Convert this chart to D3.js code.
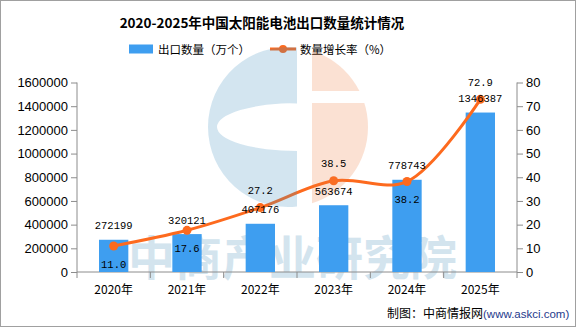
<!DOCTYPE html>
<html><head><meta charset="utf-8">
<script src="https://cdn.jsdelivr.net/npm/d3@7/dist/d3.min.js"></script>
<style>html,body{margin:0;padding:0;background:#fff;}svg{display:block;}</style>
</head><body>
<script>
const years = ["2020年","2021年","2022年","2023年","2024年","2025年"];
const exportQty = [272199, 320121, 407176, 563674, 778743, 1346387];
const growthRate = [11.0, 17.6, 27.2, 38.5, 38.2, 72.9];
const leftTicks = [0,200000,400000,600000,800000,1000000,1200000,1400000,1600000];
const rightTicks = [0,10,20,30,40,50,60,70,80];
const rateLabelSide = ["below","below","above","above","below","above"];

const W = 576, H = 327;
const svg = d3.select("body").append("svg").attr("width", W).attr("height", H);
svg.append("rect").attr("x",0.5).attr("y",0.5).attr("width",W-1).attr("height",H-1)
  .attr("fill","#fff").attr("stroke","#a0a0a0");

const x0 = 77, x1 = 517, yTop = 82.5, yBot = 272;
const x = d3.scaleBand().domain(years).range([x0, x1]).paddingInner(0.6).paddingOuter(0.3);
const yL = d3.scaleLinear().domain([0,1600000]).range([yBot, yTop]);
const yR = d3.scaleLinear().domain([0,80]).range([yBot, yTop]);
const cx = d => x(d) + x.bandwidth()/2;

const barColor = "#3e9ef0", lineColor = "#fd6a1e", axisColor = "#8c8c8c";
const cjk = "'Noto Sans CJK SC', sans-serif";

// watermark text (behind bars)
svg.append("text").attr("x", 292.5).attr("y", 275).attr("text-anchor","middle")
  .attr("font-family", cjk).attr("font-weight","bold").attr("font-size", 47)
  .attr("fill","#d3e4ee").text("中商产业研究院");

// Title
svg.append("text").attr("x", 262).attr("y", 28).attr("text-anchor","middle")
  .attr("font-family", cjk).attr("font-weight","bold").attr("font-size", 13.5)
  .attr("fill","#000").text("2020-2025年中国太阳能电池出口数量统计情况");

// Legend
svg.append("rect").attr("x",129).attr("y",44.5).attr("width",24).attr("height",9).attr("fill",barColor);
svg.append("text").attr("x",158).attr("y",53.5).attr("font-family",cjk).attr("font-size",11.5)
  .attr("fill","#000").text("出口数量（万个）");
svg.append("line").attr("x1",270).attr("x2",296).attr("y1",49).attr("y2",49)
  .attr("stroke",lineColor).attr("stroke-width",3);
svg.append("circle").attr("cx",283).attr("cy",49).attr("r",4).attr("fill",lineColor);
svg.append("text").attr("x",300).attr("y",53.5).attr("font-family",cjk).attr("font-size",11.5)
  .attr("fill","#000").text("数量增长率（%）");

// Axes
const axL = svg.append("g").attr("transform",`translate(${x0},0)`)
  .call(d3.axisLeft(yL).tickValues(leftTicks).tickSize(6).tickPadding(3).tickFormat(d3.format("d")));
const axR = svg.append("g").attr("transform",`translate(${x1},0)`)
  .call(d3.axisRight(yR).tickValues(rightTicks).tickSize(6).tickPadding(3).tickFormat(d3.format("d")));
[axL, axR].forEach(g => {
  g.select(".domain").attr("d", null).remove();
  g.selectAll("line").attr("stroke", axisColor);
  g.selectAll("text").attr("font-family","'Liberation Sans', Arial, sans-serif").attr("font-size",13).attr("fill","#000");
});
svg.append("line").attr("x1",x0).attr("x2",x0).attr("y1",yTop).attr("y2",yBot).attr("stroke",axisColor);
svg.append("line").attr("x1",x1).attr("x2",x1).attr("y1",yTop).attr("y2",yBot).attr("stroke",axisColor);
svg.append("line").attr("x1",x0).attr("x2",x1).attr("y1",yBot).attr("y2",yBot).attr("stroke",axisColor);
const step = x.step();
const boundaries = years.map(d => x(d) - x.paddingOuter()*step).concat([x1]);
svg.selectAll(".xtick").data(boundaries).enter().append("line")
  .attr("x1",d=>d).attr("x2",d=>d).attr("y1",yBot).attr("y2",yBot+6).attr("stroke",axisColor);
svg.selectAll(".xlab").data(years).enter().append("text")
  .attr("x",d=>cx(d)).attr("y",yBot+22).attr("text-anchor","middle")
  .attr("font-family",cjk).attr("font-size",12).attr("fill","#000").text(d=>d);

// Bars
svg.selectAll(".bar").data(years).enter().append("rect")
  .attr("x",d=>x(d)).attr("width",x.bandwidth())
  .attr("y",(d,i)=>yL(exportQty[i])).attr("height",(d,i)=>yBot-yL(exportQty[i]))
  .attr("fill",barColor);

// Line
const pts = years.map((d,i)=>[cx(d), yR(growthRate[i])]);
svg.append("path").attr("d", d3.line().curve(d3.curveCatmullRom.alpha(0.5))(pts))
  .attr("fill","none").attr("stroke",lineColor).attr("stroke-width",3);
svg.selectAll(".dot").data(pts).enter().append("circle")
  .attr("cx",d=>d[0]).attr("cy",d=>d[1]).attr("r",4.5).attr("fill",lineColor);

// Watermark logo (translucent, on top of line)
const lcx = 288, lcy = 127, lr = 80;
function circY(xv){ return Math.sqrt(lr*lr - (xv-lcx)*(xv-lcx)); }
const gx = 297, px = 312;
const blue = d3.path();
blue.moveTo(gx, lcy - circY(gx));
blue.arc(lcx, lcy, lr, Math.atan2(-circY(gx), gx-lcx), Math.atan2(circY(gx), gx-lcx), true);
blue.closePath();
const ell = `M${gx},${lcy-24} A80,24 0 0 0 ${gx},${lcy+24} Z`;
svg.append("path").attr("d", blue.toString() + ell).attr("fill-rule","evenodd")
  .attr("fill","rgb(60,140,190)").attr("fill-opacity",0.226);
const peach = d3.path();
peach.moveTo(px, lcy - circY(px));
peach.arc(lcx, lcy, lr, Math.atan2(-circY(px), px-lcx), Math.atan2(circY(px), px-lcx), false);
peach.closePath();
svg.append("clipPath").attr("id","pclip").append("path")
  .attr("d", `M0,0H${W}V91H0Z M0,103H${W}V${H}H0Z`);
svg.append("path").attr("d", peach.toString()).attr("clip-path","url(#pclip)")
  .attr("fill","rgb(235,120,60)").attr("fill-opacity",0.222);

// Data labels
const lblFont = "'Liberation Mono', monospace";
svg.selectAll(".blab").data(years).enter().append("text")
  .attr("x",d=>cx(d)).attr("y",(d,i)=>yL(exportQty[i]) - 14).attr("dy","0.35em")
  .attr("text-anchor","middle").attr("font-family",lblFont).attr("font-size",10.5)
  .attr("fill","#000").text((d,i)=>exportQty[i]);
svg.selectAll(".rlab").data(years).enter().append("text")
  .attr("x",d=>cx(d)).attr("y",(d,i)=>yR(growthRate[i]) + (rateLabelSide[i]==="above" ? -17 : 18))
  .attr("dy","0.35em").attr("text-anchor","middle").attr("font-family",lblFont).attr("font-size",10.5)
  .attr("fill","#000").text((d,i)=>growthRate[i].toFixed(1));

// Footer
const ft = svg.append("text").attr("x",387).attr("y",318).attr("font-family",cjk).attr("font-size",12).attr("fill","#000");
ft.append("tspan").text("制图：中商情报网");
ft.append("tspan").attr("font-family","'Liberation Sans', Arial, sans-serif").attr("font-size",11.5)
  .attr("fill","#1f3a8c").text("(www.askci.com)");
</script>
</body></html>
